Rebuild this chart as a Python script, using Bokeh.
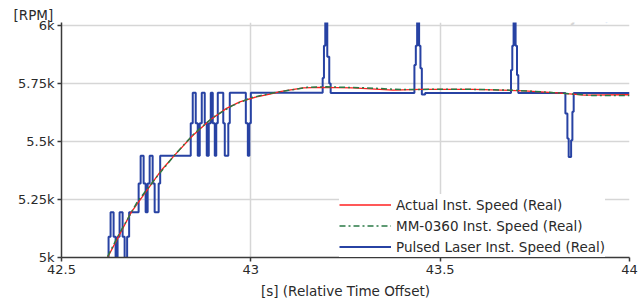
from bokeh.plotting import figure
from bokeh.models import Range1d, FixedTicker, Label, Legend, LegendItem, Title
from bokeh.embed import file_html
from bokeh.resources import INLINE

# ---- data ----
x_ticks = [42.5, 43, 43.5, 44]
x_tick_labels = ["42.5", "43", "43.5", "44"]
y_ticks = [5000, 5250, 5500, 5750, 6000]
y_tick_labels = ["5k", "5.25k", "5.5k", "5.75k", "6k"]

actual_t = [42.600, 42.6217, 42.6844, 42.7638, 42.7989, 42.8474, 42.8915, 42.9357,
            42.9709, 43.0151, 43.0503, 43.0767, 43.1384, 43.1825, 43.2698, 43.3757,
            43.4471, 43.5899, 43.7222, 43.8095, 43.8810, 43.9868, 44.0]
actual_rpm = [4930, 5000, 5196, 5377, 5442, 5528, 5593, 5644,
              5672, 5694, 5706, 5716, 5733, 5735, 5733, 5723,
              5726, 5726, 5720, 5711, 5701, 5703, 5703]

mm_t = [42.605, 42.650, 42.700, 42.750, 42.800, 42.850, 42.900, 42.950, 43.000,
        43.050, 43.100, 43.150, 43.200, 43.300, 43.400, 43.500, 43.600, 43.700,
        43.800, 43.900, 44.0]
mm_rpm = [4950, 5095, 5240, 5345, 5445, 5535, 5605, 5655, 5690,
          5708, 5722, 5735, 5737, 5733, 5725, 5727, 5726, 5722,
          5712, 5700, 5700]

laser_t = [42.6005, 42.6243, 42.6296, 42.6376, 42.6429, 42.6481, 42.6534, 42.6614,
           42.6667, 42.6733, 42.6786, 42.7037, 42.7090, 42.7169, 42.7222, 42.7275,
           42.7328, 42.7407, 42.7460, 42.7566, 42.7606, 42.8413, 42.8466, 42.8545,
           42.8598, 42.8651, 42.8704, 42.8783, 42.8836, 42.8889, 42.8942, 42.8995,
           42.9048, 42.9087, 42.9127, 42.9272, 42.9312, 42.9405, 42.9444, 42.9868,
           42.9921, 42.9960, 43.0000, 43.1897, 43.1931, 43.1966, 43.2019, 43.2071,
           43.2108, 43.4320, 43.4357, 43.4392, 43.4444, 43.4479, 43.4516, 43.4603,
           43.6870, 43.6905, 43.6939, 43.6992, 43.7029, 43.7063, 43.8307, 43.8360,
           43.8394, 43.8458, 43.8492, 43.8526, 44.0]
laser_rpm = [4980, 5090, 5195, 5090, 4985, 5090, 5195, 5090,
             4985, 5090, 5195, 5320, 5440, 5320, 5195, 5320,
             5440, 5320, 5195, 5320, 5440, 5580, 5712, 5580,
             5440, 5580, 5712, 5580, 5440, 5580, 5712, 5580,
             5440, 5580, 5712, 5580, 5440, 5580, 5712, 5580,
             5440, 5580, 5712, 5775, 5915, 6016, 5867, 5752,
             5710, 5831, 5915, 6016, 5915, 5817, 5704, 5710,
             5810, 5915, 6016, 5915, 5788, 5710, 5622, 5514,
             5434, 5506, 5629, 5711, 5711]

FONT = "DejaVu Sans"
TXT = "#2a2a2a"

p = figure(width=644, height=301, x_range=Range1d(42.5, 44.0), y_range=Range1d(5000, 6015),
           output_backend="svg", toolbar_location=None,
           min_border_left=61, min_border_right=15, min_border_top=22, min_border_bottom=44)
p.outline_line_color = None
p.background_fill_color = "white"
p.border_fill_color = "white"

# "[RPM]" unit label at top-left, as a left-aligned title shifted over the y axis
p.title = Title(text="[RPM]", align="left", offset=-48, standoff=0,
                text_font=FONT, text_font_size="13.5px", text_font_style="normal",
                text_color=TXT)

p.xaxis.ticker = FixedTicker(ticks=x_ticks)
p.yaxis.ticker = FixedTicker(ticks=y_ticks)
p.xaxis.major_label_overrides = {(int(t) if float(t).is_integer() else t): l for t, l in zip(x_ticks, x_tick_labels)}
p.yaxis.major_label_overrides = {t: l for t, l in zip(y_ticks, y_tick_labels)}

for ax in (p.xaxis[0], p.yaxis[0]):
    ax.axis_line_color = "#3a3a3a"
    ax.axis_line_width = 1.5
    ax.major_tick_line_color = "#3a3a3a"
    ax.major_tick_line_width = 1.5
    ax.major_tick_out = 4
    ax.major_tick_in = 0
    ax.minor_tick_line_color = None
    ax.major_label_text_font = FONT
    ax.major_label_text_font_size = "13px"
    ax.major_label_text_color = TXT
    ax.major_label_standoff = 3

p.xaxis.axis_label = "[s] (Relative Time Offset)"
p.xaxis.axis_label_text_font = FONT
p.xaxis.axis_label_text_font_size = "13.5px"
p.xaxis.axis_label_text_font_style = "normal"
p.xaxis.axis_label_text_color = TXT
p.xaxis.axis_label_standoff = 6

p.xgrid.grid_line_color = "#d6d6d6"
p.xgrid.grid_line_width = 1.5
p.ygrid.grid_line_color = "#d6d6d6"
p.ygrid.grid_line_width = 1.5

blue = p.step(laser_t, laser_rpm, mode="after", line_color="#2742a3", line_width=2)
red = p.line(actual_t, actual_rpm, line_color="#ff2020", line_width=1.3)
green = p.line(mm_t, mm_rpm, line_color="#2a7a45", line_width=1.5, line_dash="6 3 2 3")
mark = p.scatter(x=[], y=[], marker="circle", size=7, fill_color="#1d5e2e", line_color="#1d5e2e")

legend = Legend(items=[
    LegendItem(label="Actual Inst. Speed (Real)", renderers=[red]),
    LegendItem(label="MM-0360 Inst. Speed (Real)", renderers=[green, mark]),
    LegendItem(label="Pulsed Laser Inst. Speed (Real)", renderers=[blue]),
], location=(278, 0))
legend.margin = 0
legend.padding = 0
legend.spacing = 0
legend.label_height = 21
legend.glyph_height = 21
legend.glyph_width = 52
legend.label_standoff = 5
legend.label_text_font = FONT
legend.label_text_font_size = "13.5px"
legend.label_text_color = TXT
legend.border_line_color = None
legend.background_fill_color = "white"
legend.background_fill_alpha = 1.0
p.add_layout(legend)

# light watermark above the plot area
p.add_layout(Label(x=443, y=240, x_units="screen", y_units="screen", text="Brüel & Kjær",
                   text_font=FONT, text_font_size="12.5px", text_font_style="bold",
                   text_color="#d4d4d4", text_baseline="alphabetic"))
p.add_layout(Label(x=539, y=240, x_units="screen", y_units="screen", text="❋",
                   text_font=FONT, text_font_size="14px",
                   text_color="#c4d8f2", text_baseline="alphabetic"))

open("out.html", "w").write(file_html(p, INLINE))
